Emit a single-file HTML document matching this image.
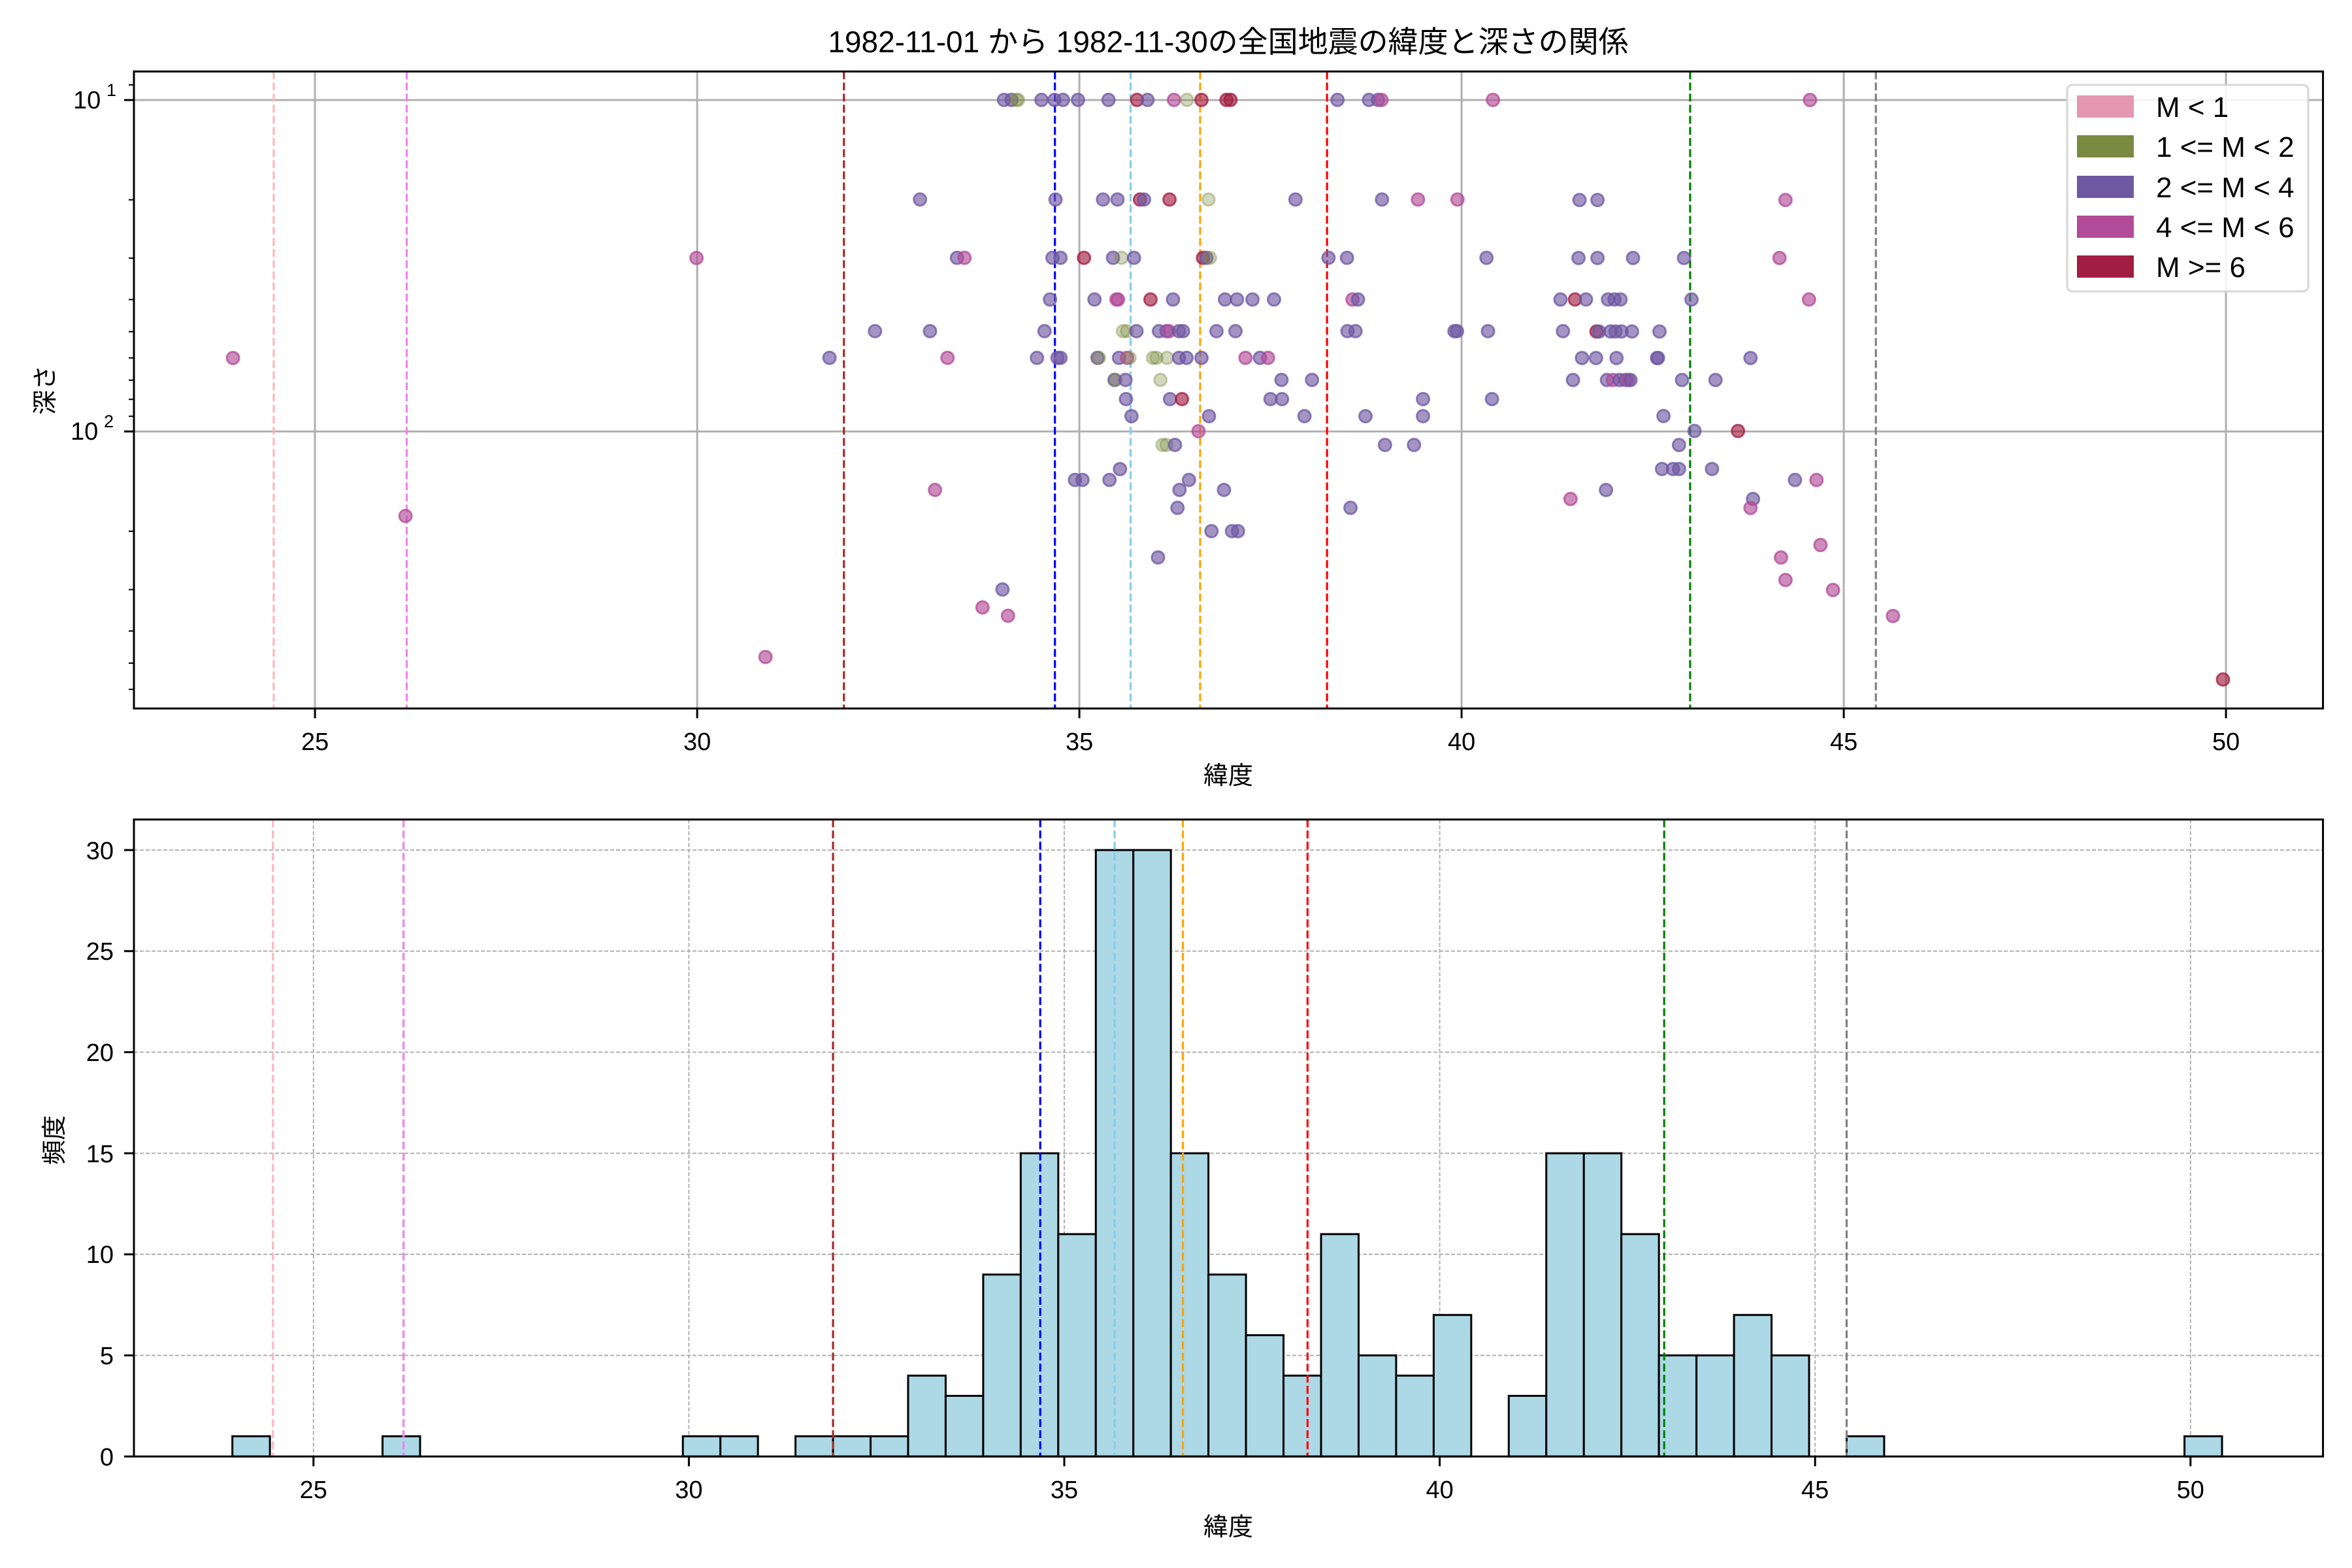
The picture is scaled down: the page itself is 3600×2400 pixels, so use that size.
<!DOCTYPE html>
<html><head><meta charset="utf-8"><style>
html,body{margin:0;padding:0;background:#fff}
svg{display:block}
text{font-family:"Liberation Sans","Noto Sans CJK JP",sans-serif;fill:#000}
</style></head><body>
<svg id="s" width="3600" height="2400" viewBox="0 0 3600 2400" xmlns="http://www.w3.org/2000/svg">
<rect width="3600" height="2400" fill="#fff"/>
<g id="g1"></g>
<g id="g2"></g>
<text x="1880" y="80" font-size="46" text-anchor="middle">1982-11-01 から 1982-11-30の全国地震の緯度と深さの関係</text>
<g font-size="38" text-anchor="middle">
<text x="482.1" y="1148">25</text><text x="1067.1" y="1148">30</text><text x="1652.1" y="1148">35</text><text x="2237.1" y="1148">40</text><text x="2822.1" y="1148">45</text><text x="3407.1" y="1148">50</text>
<text x="479.8" y="2293">25</text><text x="1054.4" y="2293">30</text><text x="1629" y="2293">35</text><text x="2203.6" y="2293">40</text><text x="2778.2" y="2293">45</text><text x="3352.8" y="2293">50</text>
</g>
<g font-size="38" text-anchor="end">
<text x="174" y="2243">0</text><text x="174" y="2088">5</text><text x="174" y="1933">10</text><text x="174" y="1779">15</text><text x="174" y="1624">20</text><text x="174" y="1469">25</text><text x="174" y="1315">30</text>
</g>
<text x="112" y="166" font-size="38">10</text><text x="163" y="147" font-size="27">1</text>
<text x="108" y="673" font-size="38">10</text><text x="159" y="654" font-size="27">2</text>
<text x="1880" y="1200" font-size="38" text-anchor="middle">緯度</text>
<text x="1880" y="2350" font-size="38" text-anchor="middle">緯度</text>
<text transform="translate(82,597) rotate(-90)" font-size="38" text-anchor="middle">深さ</text>
<text transform="translate(96,1745) rotate(-90)" font-size="38" text-anchor="middle">頻度</text>
<rect x="3164" y="130" width="369" height="316" rx="8" fill="#fff" fill-opacity="0.85" stroke="#d6d6d6" stroke-width="3"/>
<rect x="3179" y="146" width="87" height="34" fill="#e497b1"/>
<rect x="3179" y="207" width="87" height="34" fill="#7a8b41"/>
<rect x="3179" y="269" width="87" height="34" fill="#6f58a2"/>
<rect x="3179" y="330" width="87" height="34" fill="#b24b98"/>
<rect x="3179" y="391" width="87" height="34" fill="#a21d42"/>
<g font-size="44">
<text x="3300" y="179">M &lt; 1</text>
<text x="3300" y="240">1 &lt;= M &lt; 2</text>
<text x="3300" y="302">2 &lt;= M &lt; 4</text>
<text x="3300" y="363">4 &lt;= M &lt; 6</text>
<text x="3300" y="424">M &gt;= 6</text>
</g>
</svg>
<script>
const NS="http://www.w3.org/2000/svg";
function el(p,t,a){const e=document.createElementNS(NS,t);for(const k in a)e.setAttribute(k,a[k]);p.appendChild(e);return e;}
const g1=document.getElementById('g1'),g2=document.getElementById('g2');
const S=1.3067,SY5=1.568;
const L=205,R=3555.6;
const T1=109.4,B1=1084.4;
const X1=v=>482.1+117.0*(v-25);
const Y1=d=>153.1+507.3*Math.log10(d/10);
for(let v=25;v<=50;v+=5){el(g1,'line',{x1:X1(v),x2:X1(v),y1:T1,y2:B1,stroke:'#b0b0b0','stroke-width':3});
 el(g1,'line',{x1:X1(v),x2:X1(v),y1:B1,y2:B1+15,stroke:'#000','stroke-width':3});}
[10,100].forEach(d=>{el(g1,'line',{x1:L,x2:R,y1:Y1(d),y2:Y1(d),stroke:'#b0b0b0','stroke-width':3});
 el(g1,'line',{x1:L-15,x2:L,y1:Y1(d),y2:Y1(d),stroke:'#000','stroke-width':3});});
[9,20,30,40,50,60,70,80,90,200,300,400,500,600].forEach(d=>{el(g1,'line',{x1:L-8,x2:L,y1:Y1(d),y2:Y1(d),stroke:'#000','stroke-width':2});});
const vl=[[24.46,'#ffb6c1'],[26.2,'#ee82ee'],[31.92,'#a52a2a'],[34.68,'#0000ff'],[35.67,'#87ceeb'],[36.58,'#ffa500'],[38.24,'#ff0000'],[42.99,'#008000'],[45.42,'#808080']];
const C={P:'#6f58a2',M:'#b24b98',R:'#a21d42',G:'#7a8b41'};
const pts=[];
const z5=[[83,'440P 455P 465G 468G 515P 541P 558P 588P 649P 706R 727P 780M 806G 835R 885R 893R 1107P 1170P 1188P 1195M 1418M'],
[322,'272P 543P 638P 667P 712R 720P 771R 849G 1023P 1196P 1268M 1347M'],
[462,'346P 361M 537P 553P 600R 658P 675G 700P 838R 845P 852G 1089P 1126P 1405P'],
[562,'532P 621P 665M 668M 733R 778P 882P 906P 937P 980P 1137M 1148P 1553P'],
[638,'182P 292P 521P 678G 686G 705P 750P 765P 770M 790P 798P 865P 903P 1127P 1143P 1341P 1346P 1408P 1558P'],
[702,'91P 327M 506P 547P 553P 627P 630G 670P 686M 691G 738G 745G 766G 790P 805P 835P 923M 952P 968M'],
[755,'661P 663G 683P 753G 995P 1056P'],
[801,'684P 772P 796R 973P 996P 1278P 1416P'],
[842,'695P 850P 1041P 1163P 1278P'],[878,'829M'],[911,'757G 765G 782P 1202P 1260P'],[969,'672P'],
[995,'582P 597P 651P 810P'],[1019,'302M 791P 880P'],[1062,'787P 1133P'],[1118,'855P 896P 908P'],
[1181,'748P'],[1258,'437P'],[1301,'397M'],[1321,'448M']];
z5.forEach(([zy,s])=>s.split(' ').forEach(t=>{pts.push([1200+parseFloat(t)/S,100+zy/SY5,t.slice(-1)]);}));
const z4=[[200,'484M'],[400,'23P 59P 435M'],[516,'21P 59P 130P 232P 423M'],[599,'14R 36P 80P 93P 105P 247P 482M'],
[663,'57R 62P 85P 95P 107P 128P 183P'],[716,'28P 56P 97P 178P 180P 365P'],[760,'10P 78P 90M 103P 115P 120M 125P 228P 295P'],
[832,'191P'],[862,'253P 340R'],[890,'222P'],[938,'188P 210P 222P 288P'],[960,'454P 497M'],[980,'76P'],[998,'5M 370P'],[1016,'365M'],
[1090,'505M'],[1115,'426M'],[1160,'435M'],[1180,'530M'],[1232,'650M'],[1359,'1310R']];
z4.forEach(([zy,s])=>s.split(' ').forEach(t=>{pts.push([2400+parseFloat(t)/S,zy/S,t.slice(-1)]);}));
[[466,716,'M'],[1393,516,'M'],[811,1032,'M'],[1531,1314,'M']].forEach(p=>pts.push([p[0]/S,p[1]/S,p[2]]));
vl.forEach(([v,c])=>el(g1,'line',{x1:X1(v),x2:X1(v),y1:T1,y2:B1,stroke:c,'stroke-width':3.2,'stroke-dasharray':'12,5'}));
pts.forEach(([x,y,c])=>{const op=c==='G'?0.4:0.75;el(g1,'circle',{cx:x,cy:y,r:9.5,fill:C[c],'fill-opacity':op*0.85,stroke:C[c],'stroke-opacity':op,'stroke-width':3});});
el(g1,'rect',{x:L,y:T1,width:R-L,height:B1-T1,fill:'none',stroke:'#000','stroke-width':3});
const T2=1254.3,B2=2229.3;
const X2=v=>479.8+114.92*(v-25);
const Y2=n=>B2-30.94*n;
for(let v=25;v<=50;v+=5){el(g2,'line',{x1:X2(v),x2:X2(v),y1:T2,y2:B2,stroke:'#b0b0b0','stroke-width':2,'stroke-dasharray':'6,3'});
 el(g2,'line',{x1:X2(v),x2:X2(v),y1:B2,y2:B2+15,stroke:'#000','stroke-width':3});}
for(let n=0;n<=30;n+=5){el(g2,'line',{x1:L,x2:R,y1:Y2(n),y2:Y2(n),stroke:'#b0b0b0','stroke-width':2,'stroke-dasharray':'6,3'});
 el(g2,'line',{x1:L-15,x2:L,y1:Y2(n),y2:Y2(n),stroke:'#000','stroke-width':3});}
const cnt={0:1,4:1,12:1,13:1,15:1,16:1,17:1,18:4,19:3,20:9,21:15,22:11,23:30,24:30,25:15,26:9,27:6,28:4,29:11,30:5,31:4,32:7,34:3,35:15,36:15,37:11,38:5,39:5,40:7,41:5,43:1,52:1};
for(const k in cnt){const a=23.92+0.5*k;el(g2,'rect',{x:X2(a),y:Y2(cnt[k]),width:114.92*0.5,height:30.94*cnt[k],fill:'#add8e6',stroke:'#000','stroke-width':3});}
vl.forEach(([v,c])=>el(g2,'line',{x1:X2(v),x2:X2(v),y1:T2,y2:B2,stroke:c,'stroke-width':3.2,'stroke-dasharray':'12,5'}));
el(g2,'rect',{x:L,y:T2,width:R-L,height:B2-T2,fill:'none',stroke:'#000','stroke-width':3});
</script>
</body></html>
